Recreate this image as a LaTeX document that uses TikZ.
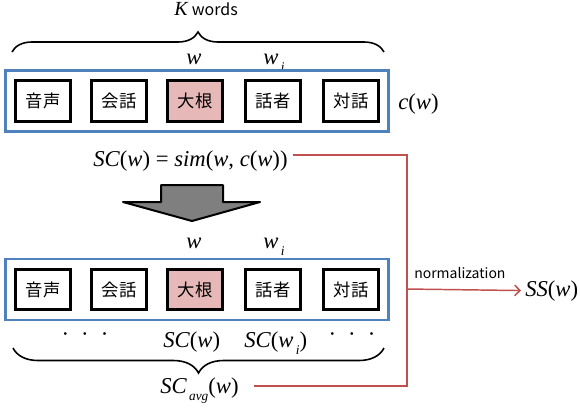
\documentclass[tikz,border=0pt]{standalone}
\usepackage{fontspec}
\setmainfont{Liberation Serif}
\newfontfamily\jpfont{Noto Sans CJK JP}
\usetikzlibrary{decorations.pathreplacing,fit,arrows.meta}
\definecolor{framecolor}{HTML}{4F81BD}
\definecolor{focuscolor}{HTML}{E6B9B8}
\definecolor{linkcolor}{HTML}{C0504D}
\definecolor{arrowgray}{HTML}{7F7F7F}
\newcommand{\lowsub}[1]{\raisebox{-0.7ex}{\fontsize{10}{12}\selectfont\,\itshape #1}}
\newcommand{\iw}{\textit{w}}
\tikzset{
  wordbox/.style={draw, rectangle, line width=2.2pt, minimum width=41pt, minimum height=30.5pt, fill=white, inner sep=0pt, font=\jpfont\fontsize{13}{15}\selectfont},
  focusbox/.style={wordbox, fill=focuscolor},
  ctxframe/.style={draw=framecolor, line width=2pt, rectangle, inner sep=6.5pt},
  formula/.style={font=\fontsize{17}{20}\selectfont, inner sep=2pt},
  sanslabel/.style={font=\jpfont\fontsize{10.5}{12}\selectfont, inner sep=0pt},
  bracepath/.style={decorate, line width=1.2pt},
  linkline/.style={draw=linkcolor, line width=1.1pt},
  dotrow/.style={font=\fontsize{17}{20}\selectfont, inner sep=0pt}
}

\begin{document}
\begin{tikzpicture}[x=0.75pt, y=-0.75pt]
\useasboundingbox (0,0) rectangle (580,412);
% upper row: the K words round w
\node[anchor=base, inner sep=0pt] (kwords) at (206,15) {\fontsize{15}{18}\selectfont\textit{K}\,{\jpfont\fontsize{12}{14}\selectfont words}};
\draw[bracepath, decoration={brace, amplitude=15pt}] (12,52) -- (384,52);
\node[formula, anchor=base] (wtop) at (194,64) {\iw};
\node[formula, anchor=base] (witop) at (274,64) {\iw\lowsub{i}};
\node[wordbox] (a1) at (43,101) {音声};
\node[wordbox] (a2) at (119,101) {会話};
\node[focusbox] (a3) at (195,101) {大根};
\node[wordbox] (a4) at (273,101) {話者};
\node[wordbox] (a5) at (351,101) {対話};
\node[ctxframe, fit=(a1)(a5)] (ctxtop) {};
\node[formula, anchor=base west, inner sep=0pt] (cw) at (398,109) {\textit{c}(\iw)};
\node[formula, anchor=base west, inner sep=0pt] (eqn) at (93,166) {\textit{SC}(\iw) = \textit{sim}(\iw, \textit{c}(\iw))};
% big arrow between the rows
\draw[fill=arrowgray, line width=1.5pt, line join=round] (161,185) -- (223,185) -- (223,202) -- (260,202) -- (192,221) -- (123,202) -- (161,202) -- cycle;
% lower row: scores
\node[formula, anchor=base] (wbot) at (194,248) {\iw};
\node[formula, anchor=base] (wibot) at (274,248) {\iw\lowsub{i}};
\node[wordbox] (b1) at (43,289.5) {音声};
\node[wordbox] (b2) at (119,289.5) {会話};
\node[focusbox] (b3) at (195,289.5) {大根};
\node[wordbox] (b4) at (273,289.5) {話者};
\node[wordbox] (b5) at (351,289.5) {対話};
\node[ctxframe, fit=(b1)(b5)] (ctxbot) {};
\node[dotrow] (dotsl) at (85,337) {\textperiodcentered\hspace{9pt}\textperiodcentered\hspace{9pt}\textperiodcentered};
\node[formula, anchor=base west, inner sep=0pt] (scw) at (163,347) {\textit{SC}(\iw)};
\node[formula, anchor=base west, inner sep=0pt] (scwi) at (244,347) {\textit{SC}(\iw\lowsub{i})};
\node[dotrow] (dotsr) at (352,337) {\textperiodcentered\hspace{9pt}\textperiodcentered\hspace{9pt}\textperiodcentered};
\draw[bracepath, decoration={brace, amplitude=18.75pt}] (384,348) -- (13,348);
\node[formula, anchor=base west, inner sep=0pt] (avg) at (160,393) {\textit{SC}\lowsub{avg}(\iw)};
% normalization
\coordinate (joint) at (407,289);
\node[formula, anchor=base west, inner sep=0pt] (ss) at (525,296) {\textit{SS}(\iw)};
\node[sanslabel, anchor=base west] (norm) at (414,278) {normalization};
\draw[linkline] ([xshift=4pt,yshift=4pt]eqn.east) -| (joint);
\draw[linkline] ([xshift=11pt,yshift=3pt]avg.east) -| (joint);
\draw[linkline, -{Straight Barb[length=4pt]}] (joint) -- ([xshift=-3pt]ss.west);
\end{tikzpicture}
\end{document}
